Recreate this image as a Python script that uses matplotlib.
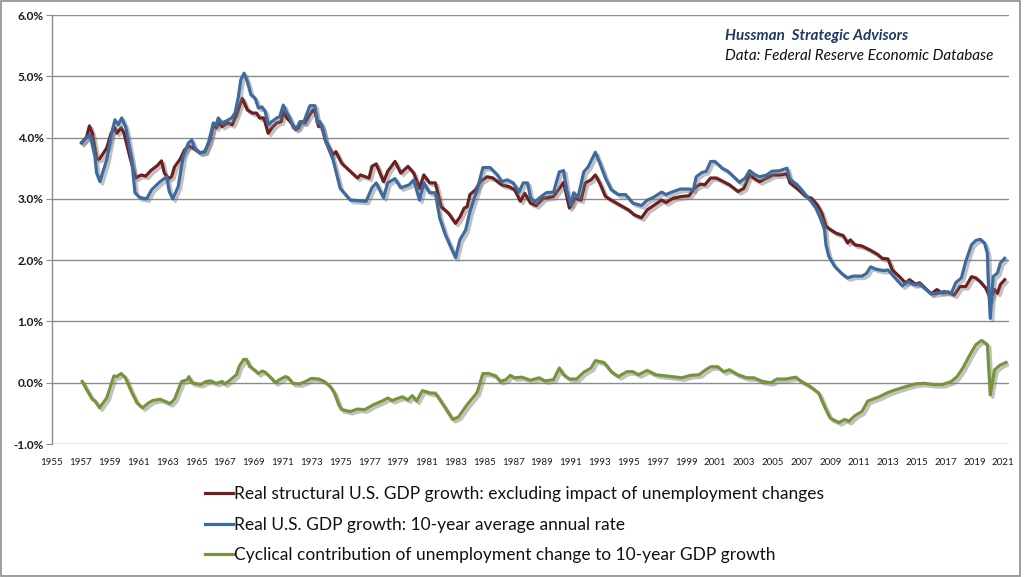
import matplotlib
matplotlib.use("Agg")
import matplotlib.pyplot as plt
import matplotlib.patheffects as pe
from matplotlib.patches import Rectangle

# ---------------- data ----------------
red_years = [1957.06, 1957.4, 1957.6, 1957.8, 1958.1, 1958.3, 1958.8, 1959.1, 1959.37, 1959.5,
             1959.8, 1960.0, 1960.4, 1960.8, 1961.2, 1961.5, 1961.7, 1961.9, 1962.3, 1962.6,
             1962.8, 1963.1, 1963.3, 1963.5, 1963.9, 1964.2, 1964.5, 1964.8, 1965.27, 1965.6,
             1965.96, 1966.2, 1966.4, 1966.6, 1966.8, 1967.2, 1967.5, 1967.8, 1968.2, 1968.3,
             1968.56, 1968.9, 1969.2, 1969.4, 1969.7, 1969.8, 1970.0, 1970.26, 1970.6, 1970.9,
             1971.05, 1971.3, 1971.6, 1971.9, 1972.1, 1972.3, 1972.55, 1972.8, 1973.1, 1973.25,
             1973.5, 1973.7, 1973.96, 1974.2, 1974.5, 1974.7, 1975.1, 1975.7, 1976.2, 1976.4,
             1977.0, 1977.2, 1977.5, 1978.0, 1978.3, 1978.8, 1979.2, 1979.7, 1980.1, 1980.5,
             1980.8, 1981.2, 1981.6, 1982.0, 1982.5, 1983.0, 1983.3, 1983.6, 1983.8, 1984.0,
             1984.4, 1984.7, 1985.2, 1985.6, 1986.2, 1986.7, 1987.1, 1987.5, 1987.8, 1988.2,
             1988.6, 1989.1, 1989.8, 1990.3, 1990.5, 1990.9, 1991.3, 1991.7, 1992.0, 1992.4,
             1992.7, 1993.0, 1993.4, 1993.8, 1994.4, 1995.0, 1995.4, 1995.9, 1996.3, 1996.8,
             1997.3, 1997.6, 1998.1, 1998.7, 1999.2, 1999.6, 2000.0, 2000.3, 2000.7, 2001.1,
             2001.6, 2002.0, 2002.6, 2003.0, 2003.4, 2003.8, 2004.1, 2004.6, 2005.05, 2005.5,
             2006.0, 2006.2, 2006.7, 2007.3, 2007.7, 2008.1, 2008.4, 2008.7, 2009.0, 2009.4,
             2009.9, 2010.2, 2010.4, 2010.7, 2011.2, 2011.8, 2012.3, 2012.6, 2013.0, 2013.3,
             2013.8, 2014.2, 2014.5, 2014.9, 2015.2, 2015.6, 2016.0, 2016.4, 2016.7, 2017.2,
             2017.6, 2018.0, 2018.4, 2018.8, 2019.1, 2019.4, 2019.8, 2020.0, 2020.1, 2020.4,
             2020.6, 2020.8, 2021.1]
red_values = [3.91, 4.01, 4.19, 4.07, 3.65, 3.65, 3.83, 4.07, 4.16, 4.07,
              4.16, 4.07, 3.69, 3.34, 3.39, 3.37, 3.42, 3.47, 3.54, 3.62,
              3.42, 3.33, 3.36, 3.52, 3.65, 3.80, 3.86, 3.83, 3.75, 3.77,
              3.96, 4.21, 4.16, 4.24, 4.18, 4.24, 4.21, 4.37, 4.64, 4.59,
              4.45, 4.40, 4.40, 4.32, 4.32, 4.24, 4.07, 4.16, 4.24, 4.26,
              4.42, 4.32, 4.24, 4.13, 4.16, 4.26, 4.24, 4.34, 4.45, 4.42,
              4.18, 4.21, 3.96, 3.85, 3.72, 3.77, 3.58, 3.45, 3.34, 3.39,
              3.34, 3.53, 3.57, 3.28, 3.45, 3.61, 3.42, 3.53, 3.42, 3.17,
              3.39, 3.26, 3.26, 2.87, 2.77, 2.60, 2.70, 2.85, 2.87, 3.07,
              3.15, 3.28, 3.36, 3.34, 3.23, 3.20, 3.15, 2.96, 3.09, 2.93,
              2.89, 3.01, 3.04, 3.20, 3.27, 2.85, 3.01, 2.98, 3.26, 3.31,
              3.39, 3.26, 3.04, 2.98, 2.90, 2.82, 2.74, 2.69, 2.82, 2.90,
              2.98, 2.94, 3.01, 3.04, 3.05, 3.18, 3.24, 3.23, 3.34, 3.34,
              3.28, 3.23, 3.12, 3.17, 3.39, 3.32, 3.28, 3.34, 3.39, 3.39,
              3.41, 3.26, 3.17, 3.04, 3.01, 2.90, 2.77, 2.55, 2.50, 2.44,
              2.40, 2.28, 2.33, 2.25, 2.23, 2.16, 2.09, 2.03, 2.02, 1.84,
              1.73, 1.63, 1.68, 1.61, 1.63, 1.54, 1.45, 1.52, 1.47, 1.48,
              1.43, 1.57, 1.57, 1.73, 1.71, 1.65, 1.54, 1.43, 1.35, 1.52,
              1.46, 1.60, 1.68]

blue_years = [1957.06, 1957.64, 1957.98, 1958.1, 1958.33, 1958.8, 1959.14, 1959.37, 1959.6, 1959.84,
              1960.13, 1960.53, 1960.76, 1961.1, 1961.57, 1961.92, 1962.5, 1962.96, 1963.14, 1963.38,
              1963.76, 1964.1, 1964.46, 1964.7, 1964.9, 1965.27, 1965.62, 1965.85, 1966.2, 1966.4,
              1966.54, 1966.78, 1967.1, 1967.47, 1967.7, 1967.93, 1968.1, 1968.33, 1968.56, 1968.8,
              1969.1, 1969.33, 1969.57, 1969.8, 1970.0, 1970.26, 1970.6, 1970.8, 1971.05, 1971.3,
              1971.5, 1971.75, 1972.0, 1972.2, 1972.45, 1972.7, 1972.9, 1973.25, 1973.4, 1973.6,
              1973.8, 1974.0, 1974.5, 1975.0, 1975.7, 1976.3, 1976.8, 1977.2, 1977.5, 1978.0,
              1978.3, 1978.8, 1979.2, 1979.8, 1980.1, 1980.5, 1980.8, 1981.2, 1981.6, 1981.9,
              1982.3, 1982.6, 1983.0, 1983.3, 1983.7, 1984.0, 1984.5, 1984.9, 1985.4, 1985.9,
              1986.2, 1986.6, 1987.0, 1987.4, 1987.7, 1988.0, 1988.2, 1988.5, 1988.9, 1989.3,
              1989.8, 1990.2, 1990.5, 1990.7, 1991.0, 1991.2, 1991.5, 1991.9, 1992.2, 1992.7,
              1993.0, 1993.4, 1993.8, 1994.3, 1994.8, 1995.3, 1995.9, 1996.3, 1996.7, 1997.3,
              1997.6, 1998.0, 1998.6, 1999.2, 1999.5, 1999.7, 2000.1, 2000.4, 2000.7, 2001.0,
              2001.5, 2001.9, 2002.3, 2002.7, 2003.1, 2003.4, 2003.8, 2004.1, 2004.6, 2004.95,
              2005.5, 2006.0, 2006.2, 2006.7, 2007.2, 2007.6, 2008.0, 2008.3, 2008.6, 2008.7,
              2008.9, 2009.3, 2009.8, 2010.2, 2010.6, 2011.2, 2011.5, 2011.8, 2012.2, 2012.7,
              2013.0, 2013.5, 2014.0, 2014.4, 2014.8, 2015.2, 2015.6, 2016.0, 2016.5, 2016.9,
              2017.4, 2017.7, 2018.1, 2018.4, 2018.8, 2019.1, 2019.4, 2019.7, 2019.9, 2019.95,
              2020.1, 2020.3, 2020.6, 2020.8, 2021.1]
blue_values = [3.92, 4.05, 3.69, 3.42, 3.28, 3.64, 4.07, 4.29, 4.21, 4.32,
               4.16, 3.64, 3.10, 3.02, 3.00, 3.15, 3.28, 3.36, 3.12, 3.00,
               3.20, 3.69, 3.91, 3.96, 3.83, 3.75, 3.77, 3.91, 4.24, 4.21,
               4.32, 4.24, 4.27, 4.32, 4.40, 4.66, 4.94, 5.05, 4.91, 4.70,
               4.64, 4.48, 4.50, 4.42, 4.21, 4.26, 4.32, 4.34, 4.53, 4.40,
               4.32, 4.16, 4.16, 4.26, 4.24, 4.40, 4.52, 4.52, 4.24, 4.26,
               4.13, 3.93, 3.64, 3.17, 2.98, 2.97, 2.96, 3.18, 3.26, 3.02,
               3.26, 3.33, 3.18, 3.23, 3.31, 2.98, 3.26, 3.10, 3.10, 2.69,
               2.41, 2.25, 2.04, 2.33, 2.49, 2.79, 3.15, 3.51, 3.51, 3.39,
               3.28, 3.31, 3.26, 3.11, 3.26, 3.26, 3.02, 2.95, 3.03, 3.10,
               3.11, 3.44, 3.46, 3.15, 2.90, 3.10, 3.03, 3.44, 3.52, 3.76,
               3.59, 3.34, 3.15, 3.07, 3.07, 2.93, 2.89, 2.98, 3.02, 3.11,
               3.07, 3.11, 3.16, 3.16, 3.15, 3.36, 3.43, 3.45, 3.61, 3.61,
               3.50, 3.45, 3.36, 3.27, 3.34, 3.46, 3.39, 3.36, 3.39, 3.45,
               3.46, 3.50, 3.32, 3.23, 3.09, 2.98, 2.85, 2.69, 2.50, 2.25,
               2.06, 1.90, 1.78, 1.71, 1.74, 1.74, 1.78, 1.89, 1.85, 1.83,
               1.84, 1.71, 1.58, 1.65, 1.60, 1.61, 1.53, 1.45, 1.46, 1.49,
               1.46, 1.63, 1.71, 1.98, 2.25, 2.32, 2.34, 2.28, 2.11, 1.73,
               1.05, 1.73, 1.79, 1.95, 2.03]

green_years = [1957.1, 1957.4, 1957.8, 1958.0, 1958.3, 1958.8, 1959.1, 1959.3, 1959.5, 1959.8,
               1960.1, 1960.5, 1960.9, 1961.3, 1961.7, 1962.0, 1962.5, 1962.8, 1963.2, 1963.5,
               1963.8, 1964.0, 1964.4, 1964.5, 1964.7, 1965.3, 1965.7, 1966.0, 1966.4, 1966.8,
               1967.0, 1967.4, 1967.8, 1968.0, 1968.3, 1968.5, 1968.7, 1969.1, 1969.3, 1969.6,
               1969.8, 1970.2, 1970.5, 1970.8, 1971.2, 1971.4, 1971.7, 1972.2, 1972.6, 1973.0,
               1973.5, 1973.9, 1974.3, 1974.6, 1974.9, 1975.1, 1975.7, 1976.2, 1976.7, 1977.3,
               1977.9, 1978.3, 1978.6, 1979.3, 1979.7, 1980.0, 1980.3, 1980.7, 1981.3, 1981.6,
               1982.2, 1982.8, 1983.2, 1983.8, 1984.5, 1984.9, 1985.3, 1985.8, 1986.1, 1986.5,
               1986.8, 1987.1, 1987.6, 1988.2, 1988.8, 1989.2, 1989.8, 1990.2, 1990.5, 1990.9,
               1991.4, 1991.9, 1992.4, 1992.7, 1993.3, 1993.8, 1994.3, 1994.9, 1995.3, 1995.7,
               1996.3, 1996.9, 1997.6, 1998.3, 1998.7, 1999.3, 1999.9, 2000.3, 2000.7, 2001.2,
               2001.6, 2002.0, 2002.6, 2003.2, 2003.7, 2004.3, 2004.9, 2005.3, 2005.9, 2006.6,
               2007.0, 2007.6, 2008.2, 2008.6, 2009.0, 2009.6, 2010.0, 2010.3, 2010.7, 2011.2,
               2011.6, 2012.4, 2013.0, 2013.6, 2014.3, 2014.9, 2015.5, 2016.2, 2016.8, 2017.4,
               2017.8, 2018.2, 2018.7, 2019.1, 2019.5, 2019.9, 2020.1, 2020.4, 2020.8, 2021.2]
green_values = [0.02, -0.11, -0.27, -0.30, -0.41, -0.25, -0.03, 0.11, 0.10, 0.15,
                0.08, -0.14, -0.33, -0.41, -0.33, -0.29, -0.27, -0.30, -0.34, -0.27,
                -0.09, 0.02, 0.05, 0.10, 0.00, -0.03, 0.02, 0.03, -0.01, 0.02,
                -0.02, 0.05, 0.13, 0.27, 0.38, 0.38, 0.27, 0.20, 0.15, 0.19,
                0.17, 0.08, 0.00, 0.05, 0.10, 0.08, -0.01, -0.02, 0.02, 0.07,
                0.06, 0.02, -0.06, -0.17, -0.36, -0.44, -0.47, -0.43, -0.44, -0.36,
                -0.30, -0.25, -0.29, -0.23, -0.28, -0.21, -0.30, -0.13, -0.17, -0.17,
                -0.38, -0.60, -0.56, -0.36, -0.16, 0.15, 0.15, 0.11, 0.02, 0.05,
                0.12, 0.08, 0.09, 0.04, 0.08, 0.03, 0.05, 0.24, 0.13, 0.06,
                0.06, 0.17, 0.24, 0.36, 0.33, 0.18, 0.10, 0.18, 0.18, 0.13,
                0.20, 0.13, 0.11, 0.09, 0.08, 0.12, 0.13, 0.20, 0.26, 0.26,
                0.18, 0.21, 0.13, 0.08, 0.08, 0.02, 0.00, 0.06, 0.06, 0.09,
                0.02, -0.06, -0.17, -0.39, -0.58, -0.65, -0.60, -0.63, -0.54, -0.47,
                -0.30, -0.23, -0.16, -0.11, -0.06, -0.02, -0.01, -0.03, -0.03, 0.02,
                0.10, 0.24, 0.46, 0.62, 0.69, 0.62, -0.20, 0.21, 0.29, 0.33]

series_labels = ["Real structural U.S. GDP growth: excluding impact of unemployment changes",
                 "Real U.S. GDP growth: 10-year average annual rate",
                 "Cyclical contribution of unemployment change to 10-year GDP growth"]
year_ticks = list(range(1955, 2022, 2))
pct_ticks = [-1.0, 0.0, 1.0, 2.0, 3.0, 4.0, 5.0, 6.0]

# ---------------- style ----------------
plt.rcParams['font.family'] = ['Lato', 'DejaVu Sans']
RED = "#6E1F1F"
BLUE = "#3C6AA1"
GREEN = "#77943A"
GRID = "#8C8C8C"

fig = plt.figure(figsize=(10.25, 5.77), dpi=100)
ax = fig.add_axes([0.0507, 0.2305, 0.9337, 0.7435])

shadow = [pe.SimpleLineShadow(offset=(1.8, -1.8), shadow_color="#777777", alpha=0.45),
          pe.Normal()]

l1, = ax.plot(red_years, red_values, color=RED, lw=2.3, path_effects=shadow,
              solid_joinstyle='round', zorder=3, label=series_labels[0])
l2, = ax.plot(blue_years, blue_values, color=BLUE, lw=2.3, path_effects=shadow,
              solid_joinstyle='round', zorder=4, label=series_labels[1])
l3, = ax.plot(green_years, green_values, color=GREEN, lw=2.3, path_effects=shadow,
              solid_joinstyle='round', zorder=3, label=series_labels[2])

ax.set_xlim(1955, 2021.4)
ax.set_ylim(-1.0, 6.0)
ax.set_yticks(pct_ticks)
ax.set_yticklabels([f"{v:.1f}%" for v in pct_ticks], fontsize=8.5, fontweight='bold',
                   color="#1a1a1a")
ax.set_xticks(year_ticks)
ax.set_xticklabels([str(y) for y in year_ticks], fontsize=7, color="#1a1a1a")

ax.grid(axis='y', color=GRID, lw=1.0)
ax.set_axisbelow(True)
for s in ['top', 'right', 'bottom']:
    ax.spines[s].set_visible(False)
ax.spines['left'].set_color(GRID)
ax.spines['left'].set_linewidth(1.0)
ax.tick_params(axis='y', length=4, color=GRID, pad=2)
ax.tick_params(axis='x', length=0, pad=10)

ax.text(0.703, 0.951, "Hussman  Strategic Advisors", transform=ax.transAxes,
        fontsize=11, fontweight='bold', fontstyle='italic', color="#1F3864",
        ha='left', va='center')
ax.text(0.703, 0.904, "Data: Federal Reserve Economic Database", transform=ax.transAxes,
        fontsize=11, fontstyle='italic', color="#111111", ha='left', va='center')

fig.legend(handles=[l1, l2, l3], loc='upper left', bbox_to_anchor=(0.193, 0.170),
           frameon=False, fontsize=12.5, handlelength=1.6, handletextpad=0.1,
           labelspacing=0.85, borderaxespad=0, labelcolor="#111111")
for h in fig.legends[0].legend_handles:
    h.set_path_effects([])
    h.set_linewidth(2.3)

fig.patches.append(Rectangle((0.001, 0.002), 0.994, 0.996, transform=fig.transFigure,
                             fill=False, edgecolor="#8C8C8C", lw=1.2))

fig.savefig("out.png", dpi=100)
